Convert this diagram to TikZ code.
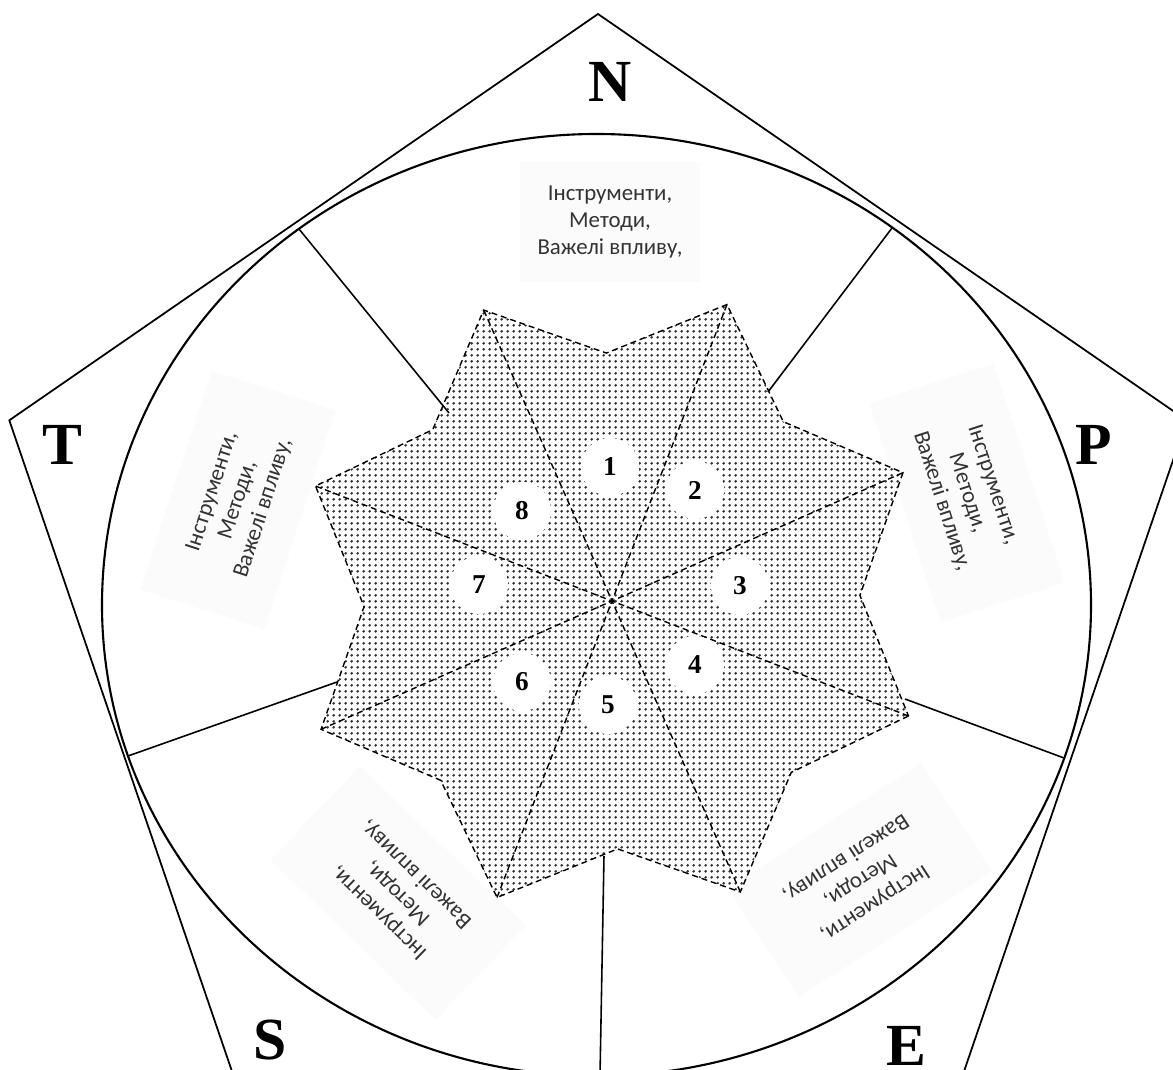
\documentclass[tikz,border=0pt]{standalone}
\usepackage{fontspec}
\setmainfont{Liberation Serif}
\newfontfamily\calfont{Carlito}
\usetikzlibrary{patterns,calc}
\pgfdeclarepatternformonly{stardots}{\pgfqpoint{0pt}{0pt}}{\pgfqpoint{3.5pt}{3.5pt}}{\pgfqpoint{3.5pt}{3.5pt}}{\pgfpathcircle{\pgfqpoint{1.75pt}{1.75pt}}{0.95pt}\pgfusepath{fill}}
\begin{document}
\begin{tikzpicture}[x=0.02cm,y=-0.02cm,
  outline/.style={line width=1pt},
  divider/.style={line width=0.9pt},
  stardash/.style={dash pattern=on 3.4pt off 2.2pt, line width=0.8pt},
  numdisc/.style={circle, fill=white, minimum size=1.16cm, inner sep=0pt, font=\bfseries\fontsize{15.5}{15.5}\selectfont},
  sidelabel/.style={font=\bfseries\fontsize{34}{34}\selectfont, inner sep=0pt},
  toolbox/.style={fill=black!1.5, minimum width=4.6cm, minimum height=2.6cm, align=center, font=\calfont\fontsize{13}{15.3}\selectfont, text=black!80, inner sep=0pt},
]
\useasboundingbox (0,0) rectangle (1173,1070);
\fill[white] (0,0) rectangle (1173,1070);

% faint text boxes
\node[toolbox, minimum width=3.6cm, minimum height=2.4cm] (tN) at (610,222) {Інструменти,\\Методи,\\Важелі впливу,};
\node[toolbox, rotate=72] (tT) at (238,500) {Інструменти,\\Методи,\\Важелі впливу,};
\node[toolbox, rotate=-72] (tP) at (967,493) {Інструменти,\\Методи,\\Важелі впливу,};
\node[toolbox, rotate=136] (tS) at (398,893) {Інструменти,\\Методи,\\Важелі впливу,};
\node[toolbox, rotate=213] (tE) at (860,880) {Інструменти,\\Методи,\\Важелі впливу,};

% pentagon and circle
\begin{scope}
\clip (0,0) rectangle (1173,1070);
\coordinate (pA) at (598,14);
\coordinate (pB) at (1186.7,420.3);
\coordinate (pC) at (961.8,1077.8);
\coordinate (pD) at (234.2,1077.8);
\coordinate (pE) at (9.3,420.3);
\draw[outline] (pA) -- (pB) -- (pC) -- (pD) -- (pE) -- cycle;
\draw[line width=1.2pt] (596.5,605) ellipse [x radius=494.5, y radius=471];
\coordinate (d1a) at (449,413); \coordinate (d1b) at (299,229);
\coordinate (d2a) at (768,392); \coordinate (d2b) at (892,228);
\coordinate (d3a) at (337,682); \coordinate (d3b) at (128,756);
\coordinate (d4a) at (905,699); \coordinate (d4b) at (1064,758);
\coordinate (d5a) at (604,856); \coordinate (d5b) at (600,1076);
\draw[divider] (d1a) -- (d1b);
\draw[divider] (d2a) -- (d2b);
\draw[divider] (d3a) -- (d3b);
\draw[divider] (d4a) -- (d4b);
\draw[divider] (d5a) -- (d5b);
\end{scope}

% star
\coordinate (sc) at (612,601);
\foreach \k in {1,...,8} {
  \coordinate (T\k) at ($(sc)+({21.2+45*(\k-1)}:318)$);
  \coordinate (I\k) at ($(sc)+({43.7+45*(\k-1)}:248)$);
}
\draw[stardash, pattern=stardots, pattern color=black!80]
  (T1) -- (I1) -- (T2) -- (I2) -- (T3) -- (I3) -- (T4) -- (I4) --
  (T5) -- (I5) -- (T6) -- (I6) -- (T7) -- (I7) -- (T8) -- (I8) -- cycle;
\draw[stardash] (T1) -- (T5);
\draw[stardash] (T2) -- (T6);
\draw[stardash] (T3) -- (T7);
\draw[stardash] (T4) -- (T8);

% numbered discs
\node[numdisc] (n1) at (610,467) {1};
\node[numdisc] (n2) at (695,490) {2};
\node[numdisc] (n3) at (740,586) {3};
\node[numdisc] (n4) at (695,665) {4};
\node[numdisc] (n5) at (608,705) {5};
\node[numdisc] (n6) at (522,682) {6};
\node[numdisc] (n7) at (479,585) {7};
\node[numdisc] (n8) at (522,511) {8};

% side letters
\node[sidelabel] (lN) at (610,82) {N};
\node[sidelabel] (lT) at (62,445) {T};
\node[sidelabel] (lP) at (1094,445) {P};
\node[sidelabel] (lS) at (270,1040) {S};
\node[sidelabel] (lE) at (906,1046) {E};
\end{tikzpicture}
\end{document}
